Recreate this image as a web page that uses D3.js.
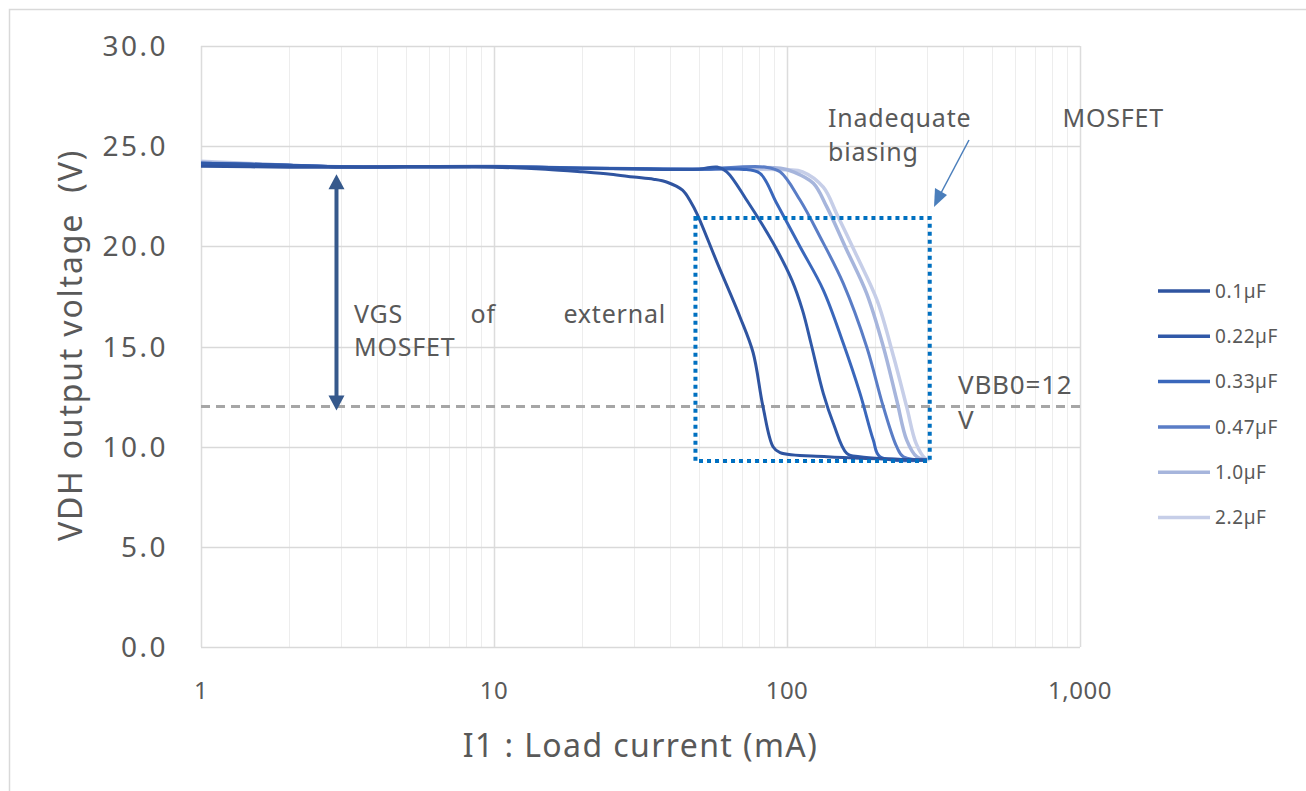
<!DOCTYPE html>
<html>
<head>
<meta charset="utf-8">
<script src="https://cdn.jsdelivr.net/npm/d3@7"></script>
<style>
  body { margin: 0; background: #fff; }
  svg { display: block; font-family: "Noto Sans", sans-serif; }
</style>
</head>
<body>
<div id="chart"></div>
<script>
// series names and colours
const seriesNames = ["0.1\u00b5F", "0.22\u00b5F", "0.33\u00b5F", "0.47\u00b5F", "1.0\u00b5F", "2.2\u00b5F"];
const seriesColors = ["#2f54a0", "#3059a8", "#3a67bb", "#5a7dc6", "#a6b5dc", "#c6cee8"];

// [load current mA, VDH V]
const c010 = [[1,24.0],[2,23.95],[3,23.95],[5,23.97],[10,23.95],[15,23.85],[20,23.72],[25,23.6],[30,23.46],[35,23.35],[39,23.2],[44,22.8],[47,22.2],[49.4,21.6],[57.7,19.2],[69,16.5],[76.6,14.7],[82.8,12.0],[89.6,10.0],[94.7,9.7],[137,9.5],[300,9.33]];
const c022 = [[1,24.15],[2,24.05],[3,23.97],[5,23.97],[10,23.98],[20,23.9],[30,23.87],[50,23.85],[57.7,23.96],[62.3,23.72],[72.9,22.3],[89.8,20.15],[104,18.3],[113,16.8],[121,15.1],[133,12.66],[144,11.16],[160,9.67],[177,9.5],[300,9.33]];
const c033 = [[1,24.15],[2,24.05],[3,23.97],[5,23.97],[10,23.98],[20,23.9],[30,23.87],[50,23.85],[70,23.85],[80.9,23.64],[92.2,22.15],[110.8,19.98],[133,17.82],[155.6,15.16],[177.5,12.66],[197,10.33],[207.6,9.5],[300,9.33]];
const c047 = [[1,24.15],[2,24.05],[3,23.97],[5,23.97],[10,23.98],[20,23.9],[30,23.87],[50,23.85],[84,23.96],[94.7,23.72],[110.8,22.31],[129.6,20.48],[155.6,18.15],[187,14.99],[213.2,11.99],[236.8,10.0],[249.5,9.5],[300,9.33]];
const c100 = [[1,24.2],[2,24.05],[3,23.97],[5,23.97],[10,23.98],[20,23.9],[30,23.87],[50,23.85],[95,23.9],[105.1,23.72],[123,23.15],[136.6,21.98],[159.9,19.82],[187,17.65],[213.2,14.99],[236.8,12.33],[256.2,10.33],[277.2,9.5],[300,9.35]];
const c220 = [[1,24.25],[2,24.05],[3,23.97],[5,23.97],[10,23.98],[20,23.9],[30,23.87],[50,23.85],[100,23.82],[113,23.72],[133,22.95],[148,21.6],[174,19.45],[203,17.3],[231,14.5],[256,12.0],[276,10.15],[296,9.42],[307,9.35]];
const allSeries = [c010, c022, c033, c047, c100, c220];

const xTicks = [1, 10, 100, 1000];
const yTicks = [0, 5, 10, 15, 20, 25, 30];
const vbb0 = 12;
// inadequate biasing region [mA, V]
const boxI = [48.7, 307];
const boxV = [9.28, 21.41];
// VGS arrow [mA, V top, V bottom]
const vgsArrow = [2.9, 23.6, 11.8];

const W = 1306, H = 791;
const plot = { left: 201, right: 1080, top: 46, bottom: 647 };
const textColor = "#595959";

const svg = d3.select("#chart").append("svg")
  .attr("width", W).attr("height", H);

svg.append("rect")
  .attr("x", 9.5).attr("y", 9.5)
  .attr("width", W).attr("height", H)
  .attr("fill", "none").attr("stroke", "#d9d9d9").attr("stroke-width", 1.5);

const x = d3.scaleLog().domain([1, 1000]).range([plot.left, plot.right]);
const y = d3.scaleLinear().domain([0, 30]).range([plot.bottom, plot.top]);

// grid
const minor = [];
for (let dec = 1; dec < 1000; dec *= 10)
  for (let k = 2; k <= 9; k++) minor.push(dec * k);

svg.append("g").selectAll("line")
  .data(minor)
  .join("line")
  .attr("x1", d => Math.round(x(d)) + 0.5).attr("x2", d => Math.round(x(d)) + 0.5)
  .attr("y1", plot.top).attr("y2", plot.bottom)
  .attr("stroke", "#ededed").attr("stroke-width", 1);

svg.append("g").selectAll("line")
  .data(xTicks)
  .join("line")
  .attr("x1", d => Math.round(x(d)) + 0.5).attr("x2", d => Math.round(x(d)) + 0.5)
  .attr("y1", plot.top).attr("y2", plot.bottom)
  .attr("stroke", "#dcdcdc").attr("stroke-width", 1.5);

svg.append("g").selectAll("line")
  .data(yTicks)
  .join("line")
  .attr("x1", plot.left).attr("x2", plot.right)
  .attr("y1", d => Math.round(y(d)) + 0.5).attr("y2", d => Math.round(y(d)) + 0.5)
  .attr("stroke", "#d9d9d9").attr("stroke-width", 1.5);

// tick labels
svg.append("g").selectAll("text")
  .data(yTicks)
  .join("text")
  .attr("x", 168).attr("y", d => y(d))
  .attr("dy", "0.36em")
  .attr("text-anchor", "end")
  .attr("font-size", 28).attr("letter-spacing", 2.5)
  .attr("fill", textColor)
  .text(d3.format(".1f"));

svg.append("g").selectAll("text")
  .data(xTicks)
  .join("text")
  .attr("x", d => x(d)).attr("y", 699)
  .attr("text-anchor", "middle")
  .attr("font-size", 24).attr("letter-spacing", 0.5)
  .attr("fill", textColor)
  .text(d3.format(","));

// axis titles
svg.append("text")
  .attr("x", (plot.left + plot.right) / 2).attr("y", 757)
  .attr("text-anchor", "middle")
  .attr("font-size", 32).attr("letter-spacing", 1.4)
  .attr("fill", textColor)
  .text("I1 : Load current (mA)");

svg.append("text")
  .attr("transform", `translate(82,345) rotate(-90)`)
  .attr("text-anchor", "middle")
  .attr("font-size", 32).attr("letter-spacing", 1.8)
  .attr("fill", textColor)
  .attr("xml:space", "preserve")
  .text("VDH output voltage  (V)");

// VBB0 dashed line
svg.append("line")
  .attr("x1", plot.left).attr("x2", plot.right)
  .attr("y1", y(vbb0)).attr("y2", y(vbb0))
  .attr("stroke", "#a6a6a6").attr("stroke-width", 3)
  .attr("stroke-dasharray", "9 6");

// curves
const line = d3.line()
  .x(d => x(d[0])).y(d => y(d[1]))
  .curve(d3.curveCatmullRom.alpha(0.5));

svg.append("g").selectAll("path")
  .data(allSeries.map((d, i) => ({ pts: d, i })).reverse())
  .join("path")
  .attr("d", d => line(d.pts))
  .attr("fill", "none")
  .attr("stroke", d => seriesColors[d.i])
  .attr("stroke-width", d => d.i >= 4 ? 3.5 : 3)
  .attr("stroke-linejoin", "round");

// dotted box
svg.append("rect")
  .attr("x", x(boxI[0])).attr("y", y(boxV[1]))
  .attr("width", x(boxI[1]) - x(boxI[0]))
  .attr("height", y(boxV[0]) - y(boxV[1]))
  .attr("fill", "none")
  .attr("stroke", "#0070c0").attr("stroke-width", 4)
  .attr("stroke-dasharray", "4 4");

// VGS double arrow
const ax = x(vgsArrow[0]);
svg.append("line")
  .attr("x1", ax).attr("x2", ax)
  .attr("y1", y(vgsArrow[1]) + 12).attr("y2", y(vgsArrow[2]) - 12)
  .attr("stroke", "#36598c").attr("stroke-width", 4);
svg.append("path")
  .attr("d", `M${ax},${y(vgsArrow[1])} l-8,15 l16,0 Z M${ax},${y(vgsArrow[2])} l-8,-15 l16,0 Z`)
  .attr("fill", "#36598c");

// annotation texts, spread like justified text boxes
function justified(words, x0, x1, yy, size) {
  const g = svg.append("g");
  const t = words.map(w => g.append("text")
    .attr("y", yy).attr("font-size", size).attr("letter-spacing", 0.8)
    .attr("fill", textColor).text(w));
  const widths = t.map(s => s.node().getComputedTextLength());
  const gap = (x1 - x0 - d3.sum(widths)) / Math.max(1, words.length - 1);
  let cx = x0;
  t.forEach((s, i) => { s.attr("x", cx); cx += widths[i] + gap; });
}
justified(["VGS", "of", "external"], 354, 666, 323, 25);
justified(["MOSFET"], 354, 460, 356, 25);
justified(["Inadequate", "MOSFET"], 828, 1164, 127, 25);
justified(["biasing"], 828, 910, 161, 25);
justified(["VBB0=12"], 958, 1080, 394, 26);
justified(["V"], 958, 980, 429, 26);

// pointer arrow
svg.append("line")
  .attr("x1", 969).attr("y1", 140).attr("x2", 941).attr("y2", 193)
  .attr("stroke", "#4a7ebb").attr("stroke-width", 1.5);
svg.append("path")
  .attr("d", "M934,207 L935,188 L947,195 Z")
  .attr("fill", "#4a7ebb");

// legend
const leg = svg.append("g").selectAll("g")
  .data(seriesNames)
  .join("g")
  .attr("transform", (d, i) => `translate(1158,${291 + i * 45.3})`);
leg.append("line")
  .attr("x1", 0).attr("x2", 52)
  .attr("stroke", (d, i) => seriesColors[i]).attr("stroke-width", 3.5);
leg.append("text")
  .attr("x", 57).attr("dy", "0.36em")
  .attr("font-size", 19).attr("letter-spacing", 0.6)
  .attr("fill", textColor)
  .text(d => d);
</script>
</body>
</html>
